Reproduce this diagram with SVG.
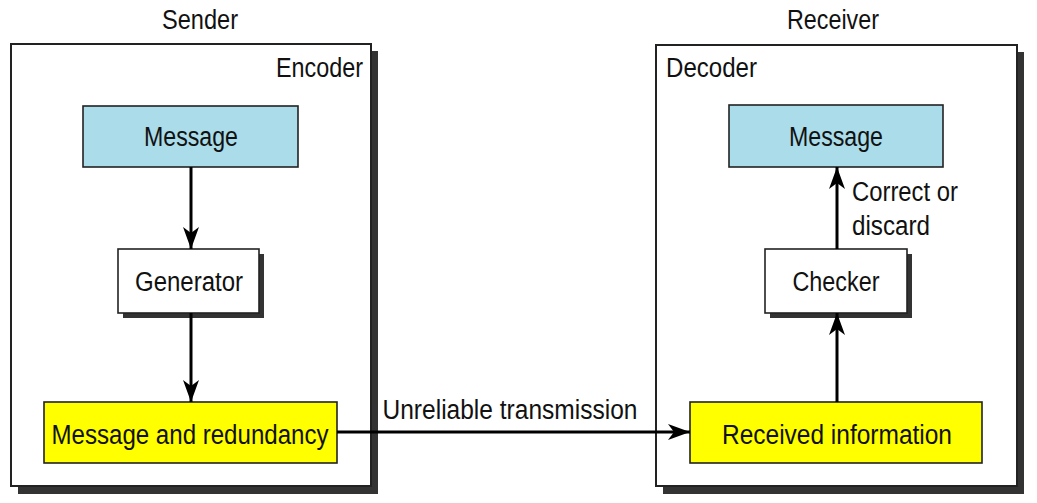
<svg xmlns="http://www.w3.org/2000/svg" width="1037" height="503" viewBox="0 0 1037 503">
<style>
text{font-family:"Liberation Sans",Arial,sans-serif;font-size:27px;fill:#111}
.mid{text-anchor:middle}
.outer{fill:#fff;stroke:#222;stroke-width:2}
.shadow{fill:#333}
.box{stroke:#222;stroke-width:1.6}
.blue{fill:#aadcea}
.white{fill:#fff}
.yellow{fill:#ffff00}
.conn{stroke:#000;stroke-width:3;fill:none;marker-end:url(#ah)}
</style>
<defs>
<marker id="ah" markerUnits="userSpaceOnUse" markerWidth="24" markerHeight="16" refX="22" refY="8" orient="auto">
<path d="M0,0 L22,8 L0,16 L6,8 z" fill="#000"/>
</marker>
</defs>
<rect width="1037" height="503" fill="#fff"/>
<text class="mid" x="200" y="29" textLength="76" lengthAdjust="spacingAndGlyphs">Sender</text>
<text class="mid" x="833" y="29" textLength="92" lengthAdjust="spacingAndGlyphs">Receiver</text>
<g id="encoder">
<rect class="shadow" x="18" y="51" width="360" height="443"/>
<rect class="outer" x="11" y="44" width="360" height="442"/>
<text x="363" y="77" text-anchor="end" textLength="87" lengthAdjust="spacingAndGlyphs">Encoder</text>
</g>
<g id="decoder">
<rect class="shadow" x="663" y="52" width="361" height="442"/>
<rect class="outer" x="656" y="45" width="361" height="441"/>
<text x="666" y="77" textLength="91" lengthAdjust="spacingAndGlyphs">Decoder</text>
</g>
<g id="msg-left">
<rect class="box blue" x="83" y="106" width="215" height="61"/>
<text class="mid" x="191" y="146" textLength="94" lengthAdjust="spacingAndGlyphs">Message</text>
</g>
<g id="generator">
<rect class="shadow" x="123" y="254" width="141" height="64"/>
<rect class="box white" x="118" y="249" width="141" height="64"/>
<text class="mid" x="189" y="291" textLength="108" lengthAdjust="spacingAndGlyphs">Generator</text>
</g>
<g id="msg-red">
<rect class="box yellow" x="44" y="402" width="293" height="61"/>
<text class="mid" x="190" y="444" textLength="277" lengthAdjust="spacingAndGlyphs">Message and redundancy</text>
</g>
<g id="msg-right">
<rect class="box blue" x="729" y="105" width="214" height="62"/>
<text class="mid" x="836" y="146" textLength="94" lengthAdjust="spacingAndGlyphs">Message</text>
</g>
<g id="checker">
<rect class="shadow" x="770" y="254" width="142" height="64"/>
<rect class="box white" x="765" y="249" width="142" height="64"/>
<text class="mid" x="836" y="291" textLength="87" lengthAdjust="spacingAndGlyphs">Checker</text>
</g>
<g id="received">
<rect class="box yellow" x="690" y="402" width="292" height="61"/>
<text class="mid" x="837" y="444" textLength="230" lengthAdjust="spacingAndGlyphs">Received information</text>
</g>
<g id="connectors">
<line class="conn" x1="191" y1="167" x2="191" y2="249"/>
<line class="conn" x1="191" y1="313" x2="191" y2="402"/>
<line class="conn" x1="337" y1="432" x2="690" y2="432"/>
<line class="conn" x1="837" y1="402" x2="837" y2="313"/>
<line class="conn" x1="837" y1="249" x2="837" y2="167"/>
<text class="mid" x="510" y="419" textLength="255" lengthAdjust="spacingAndGlyphs">Unreliable transmission</text>
<text x="852" y="201" textLength="106" lengthAdjust="spacingAndGlyphs">Correct or</text>
<text x="852" y="235" textLength="78" lengthAdjust="spacingAndGlyphs">discard</text>
</g>
</svg>
